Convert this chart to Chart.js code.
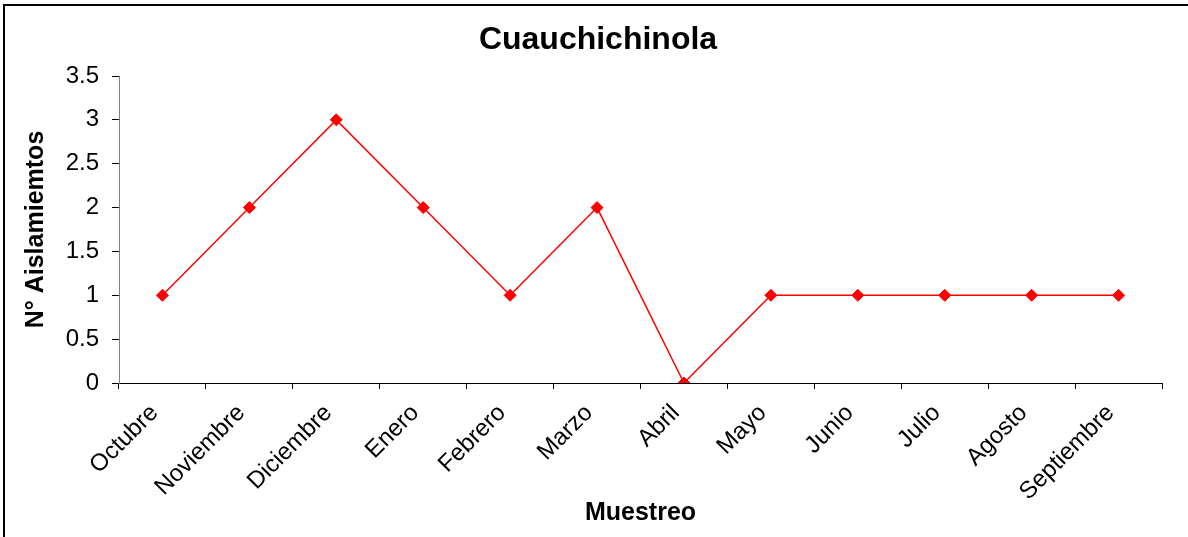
<!DOCTYPE html>
<html>
<head>
<meta charset="utf-8">
<title>Cuauchichinola</title>
<script src="https://cdn.jsdelivr.net/npm/chart.js@4/dist/chart.umd.min.js"></script>
<style>
  html, body { margin: 0; padding: 0; background: #fff; }
  #wrap { position: relative; width: 1188px; height: 537px; overflow: hidden; }
  #frame {
    position: absolute; left: 3px; top: 4px; right: -10px; bottom: -10px;
    border-top: 2px solid #000; border-left: 2px solid #000;
    pointer-events: none;
  }
  canvas { position: absolute; left: 0; top: 0; }
</style>
</head>
<body>
<div id="wrap">
  <canvas id="chart" width="1188" height="537"></canvas>
  <div id="frame"></div>
</div>
<script>
  // ---- Data ----
  const months = ['Octubre', 'Noviembre', 'Diciembre', 'Enero', 'Febrero', 'Marzo',
                  'Abril', 'Mayo', 'Junio', 'Julio', 'Agosto', 'Septiembre'];
  const aislamientos = [1, 2, 3, 2, 1, 2, 0, 1, 1, 1, 1, 1];
  const yTickLabels = ['0', '0.5', '1', '1.5', '2', '2.5', '3', '3.5'];

  const FONT = '"Liberation Sans", Arial, sans-serif';
  const RED = '#FF0000';

  new Chart(document.getElementById('chart'), {
    type: 'line',
    data: {
      labels: months,
      datasets: [{
        data: aislamientos,
        borderColor: RED,
        backgroundColor: RED,
        borderWidth: 1.5,
        pointStyle: 'rectRot',
        pointRadius: 6,
        pointBorderWidth: 1,
        pointBackgroundColor: RED,
        pointBorderColor: RED,
        tension: 0,
        fill: false
      }]
    },
    options: {
      responsive: false,
      animation: false,
      // left padding pushes the title centre to the right, like the original
      layout: { padding: { left: 34, right: 26, top: 0, bottom: 0 } },
      plugins: {
        legend: { display: false },
        tooltip: { enabled: false },
        title: {
          display: true,
          text: 'Cuauchichinola',
          color: '#000',
          font: { family: FONT, size: 32, weight: 'bold', lineHeight: 1.2 },
          padding: { top: 21, bottom: 16.6 }
        }
      },
      scales: {
        x: {
          offset: true,
          grid: {
            display: true, drawOnChartArea: false, drawTicks: true,
            offset: true, tickLength: 6, color: '#000'
          },
          border: { display: true, color: '#000', width: 1 },
          ticks: {
            color: '#000', maxRotation: 45, minRotation: 45, autoSkip: false,
            padding: 10, labelOffset: -8, font: { family: FONT, size: 24 }
          },
          title: {
            display: true, text: 'Muestreo', color: '#000',
            font: { family: FONT, size: 25, weight: 'bold', lineHeight: 1.2 },
            padding: { top: 0, bottom: 9 }
          },
          afterFit: (scale) => { scale.height = 154; }
        },
        y: {
          min: 0,
          max: 3.5,
          grid: {
            display: true, drawOnChartArea: false, drawTicks: true,
            tickLength: 7, color: '#000'
          },
          border: { display: true, color: '#808080', width: 1 },
          ticks: {
            stepSize: 0.5, color: '#000', padding: 13,
            font: { family: FONT, size: 24 },
            callback: (v, i) => yTickLabels[i]
          },
          title: {
            display: true, text: 'N° Aislamiemtos', color: '#000',
            font: { family: FONT, size: 25, weight: 'bold', lineHeight: 1.2 },
            padding: { top: -13, bottom: 0 }
          },
          afterFit: (scale) => { scale.width = 85; }
        }
      }
    }
  });
</script>
</body>
</html>
